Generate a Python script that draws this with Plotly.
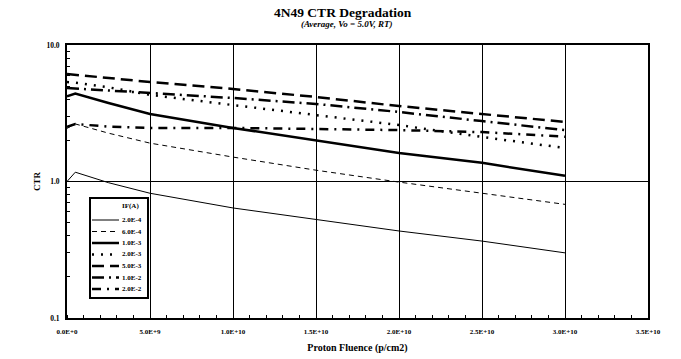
import plotly.graph_objects as go

# Proton fluence (p/cm2) at which CTR was measured
fluence = [0, 5e8, 2.5e9, 5e9, 1e10, 1.5e10, 2e10, 2.5e10, 3e10]

# Average CTR for each forward current IF (A)
ctr_2e4 = [1.00, 1.17, 0.98, 0.82, 0.64, 0.53, 0.434, 0.366, 0.30]
ctr_6e4 = [2.45, 2.64, 2.26, 1.91, 1.51, 1.21, 0.99, 0.82, 0.68]
ctr_1e3 = [4.20, 4.40, 3.76, 3.12, 2.47, 2.01, 1.62, 1.37, 1.10]
ctr_2e3 = [5.36, 5.30, 4.90, 4.31, 3.63, 3.07, 2.59, 2.12, 1.76]
ctr_5e3 = [6.13, 6.05, 5.70, 5.36, 4.76, 4.16, 3.57, 3.12, 2.73]
ctr_1e2 = [4.84, 4.80, 4.60, 4.45, 4.09, 3.70, 3.23, 2.77, 2.38]
ctr_2e2 = [2.51, 2.64, 2.52, 2.47, 2.47, 2.42, 2.38, 2.30, 2.13]

series_names = ["2.0E-4", "6.0E-4", "1.0E-3", "2.0E-3", "5.0E-3", "1.0E-2", "2.0E-2"]
series_values = [ctr_2e4, ctr_6e4, ctr_1e3, ctr_2e3, ctr_5e3, ctr_1e2, ctr_2e2]
line_styles = [
    dict(width=1, dash="solid"),
    dict(width=1, dash="5px,4px"),
    dict(width=2.5, dash="solid"),
    dict(width=2.5, dash="2px,7px"),
    dict(width=2.5, dash="12px,6px"),
    dict(width=2.5, dash="12px,5px,2px,5px"),
    dict(width=2.5, dash="9px,6px,2px,6px"),
]

x_ticks = [0, 5e9, 1e10, 1.5e10, 2e10, 2.5e10, 3e10, 3.5e10]
x_labels = ["0.0E+0", "5.0E+9", "1.0E+10", "1.5E+10", "2.0E+10", "2.5E+10", "3.0E+10", "3.5E+10"]
y_ticks = [0.1, 1, 10]
y_labels = ["0.1", "1.0", "10.0"]
y_minor = [0.2, 0.3, 0.4, 0.5, 0.6, 0.7, 0.8, 0.9, 2, 3, 4, 5, 6, 7, 8, 9]

SERIF = "Liberation Serif"
W, H = 681, 359
M_L, M_R, M_T, M_B = 67, 33, 45, 41
PW, PH = W - M_L - M_R, H - M_T - M_B


def px(x):
    """Pixel column -> paper x."""
    return (x - M_L) / PW


def py(y):
    """Pixel row -> paper y."""
    return (H - M_B - y) / PH


fig = go.Figure()
for name, vals, style in zip(series_names, series_values, line_styles):
    fig.add_trace(go.Scatter(
        x=fluence, y=vals, name=name, mode="lines", showlegend=False,
        line=dict(color="black", **style),
    ))

# Legend box drawn inside the plot, compact row spacing
box_l, box_r, box_t, box_b = 90, 148, 198, 298
fig.add_shape(type="rect", xref="paper", yref="paper",
              x0=px(box_l), x1=px(box_r), y0=py(box_b), y1=py(box_t),
              line=dict(color="black", width=2), fillcolor="white", layer="above")
fig.add_annotation(text="<b>IF(A)</b>", xref="paper", yref="paper",
                   x=px(120), y=py(206), xanchor="left", yanchor="middle",
                   showarrow=False, font=dict(size=7, family=SERIF))
row0, row_step = 220, 11.5
for i, (name, style) in enumerate(zip(series_names, line_styles)):
    yy = row0 + i * row_step
    fig.add_shape(type="line", xref="paper", yref="paper",
                  x0=px(92), x1=px(119), y0=py(yy), y1=py(yy),
                  line=dict(color="black", **style), layer="above")
    fig.add_annotation(text="<b>%s</b>" % name, xref="paper", yref="paper",
                       x=px(120), y=py(yy), xanchor="left", yanchor="middle",
                       showarrow=False, font=dict(size=7, family=SERIF))

fig.update_layout(
    width=W, height=H,
    margin=dict(l=M_L, r=M_R, t=M_T, b=M_B, autoexpand=False),
    paper_bgcolor="white", plot_bgcolor="white",
    font=dict(family=SERIF, color="black"),
    showlegend=False,
)

fig.update_xaxes(
    range=[0, 3.5e10], tickvals=x_ticks, ticktext=x_labels,
    tickfont=dict(size=7, family=SERIF, weight="bold"),
    ticklabelstandoff=6,
    showgrid=True, gridcolor="black", gridwidth=1,
    showline=True, linecolor="black", linewidth=2, mirror=True,
    ticks="", zeroline=False,
    minor=dict(dtick=1e9, ticks="inside", ticklen=3, tickcolor="black", showgrid=False),
    title=dict(text="<b>Proton Fluence (p/cm2)</b>", font=dict(size=10, family=SERIF), standoff=9),
)
fig.update_yaxes(
    type="log", range=[-1, 1], tickvals=y_ticks, ticktext=y_labels,
    tickfont=dict(size=7.5, family=SERIF, weight="bold"),
    ticklabelstandoff=4,
    showgrid=True, gridcolor="black", gridwidth=1,
    showline=True, linecolor="black", linewidth=2, mirror=True,
    ticks="", zeroline=False,
    minor=dict(tickvals=y_minor, ticks="inside", ticklen=3, tickcolor="black", showgrid=False),
    title=dict(text="<b>CTR</b>", font=dict(size=9, family=SERIF), standoff=4),
)

fig.add_annotation(
    text="<b>4N49 CTR Degradation</b>", xref="paper", yref="paper",
    x=px(343), y=1, yshift=33, showarrow=False, xanchor="center", yanchor="middle",
    font=dict(size=13.5, family=SERIF),
)
fig.add_annotation(
    text="<b><i>(Average, Vo = 5.0V, RT)</i></b>", xref="paper", yref="paper",
    x=px(347), y=1, yshift=21, showarrow=False, xanchor="center", yanchor="middle",
    font=dict(size=9, family=SERIF),
)

fig.write_html("out.html")
